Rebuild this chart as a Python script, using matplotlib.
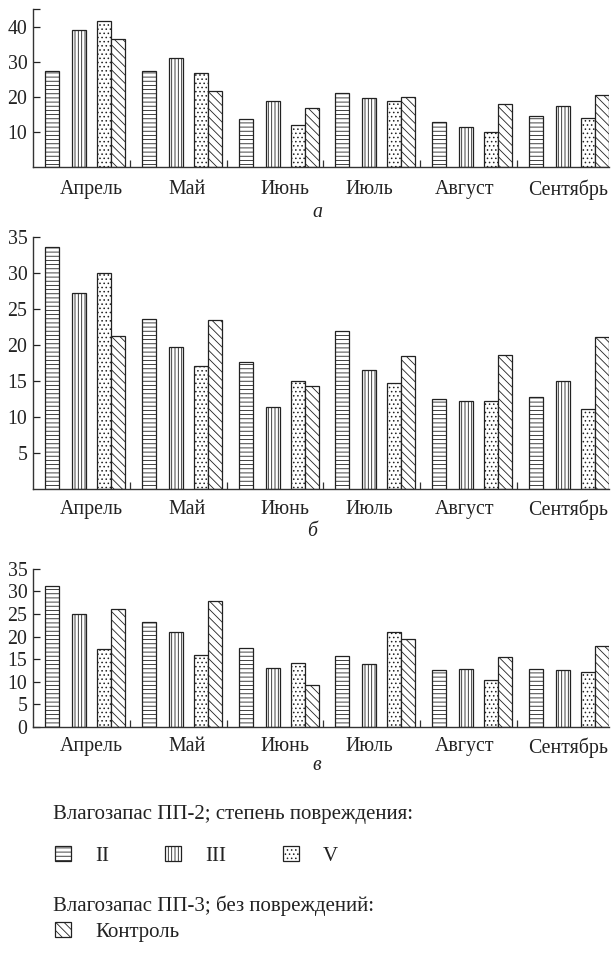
import numpy as np
import matplotlib
matplotlib.use('Agg')
import matplotlib.pyplot as plt

plt.rcParams['font.family'] = ['Liberation Serif', 'DejaVu Serif']
plt.rcParams['hatch.linewidth'] = 0.6
plt.rcParams['hatch.color'] = '#222222'

months = ['Апрель', 'Май', 'Июнь', 'Июль', 'Август', 'Сентябрь']
labels = ['II', 'III', 'V', 'Контроль']

# панель а
a_II   = [27.3, 27.3, 13.7, 21.0, 12.8, 14.5]
a_III  = [39.0, 31.2, 19.0, 19.6, 11.5, 17.4]
a_V    = [41.5, 26.7, 12.0, 19.0, 10.0, 14.1]
a_ctrl = [36.4, 21.6, 16.8, 19.9, 17.9, 20.7]

# панель б
b_II   = [33.7, 23.7, 17.7, 22.0, 12.5, 12.8]
b_III  = [27.2, 19.7, 11.4, 16.6, 12.2, 15.1]
b_V    = [30.1, 17.1, 15.1, 14.8, 12.3, 11.1]
b_ctrl = [21.3, 23.5, 14.4, 18.5, 18.6, 21.2]

# панель в
v_II   = [31.3, 23.2, 17.4, 15.6, 12.5, 12.7]
v_III  = [25.0, 20.9, 13.0, 13.8, 12.8, 12.6]
v_V    = [17.2, 15.8, 14.2, 20.9, 10.4, 12.1]
v_ctrl = [26.2, 27.8, 9.3, 19.5, 15.4, 17.8]

a_ticks = [10, 20, 30, 40, 45]
a_ticklabels = ['10', '20', '30', '40', '']
b_ticks = [5, 10, 15, 20, 25, 30, 35]
v_ticks = [0, 5, 10, 15, 20, 25, 30, 35]

# где стоят подписи месяцев внутри групп
label_pos = [0.6, 1.59, 2.6, 3.47, 4.46, 5.53]
offsets = [0.196, 0.475, 0.733, 0.878]
hatches = ['----', '|||||', '....', '\\\\\\\\']
width = 0.145
fs = 14.3
lfs = 15
ink = '#222222'

fig = plt.figure(figsize = (6.11, 9.57), dpi = 100)
ax_a = fig.add_axes([0.054, 0.8251, 0.9427, 0.1655])
ax_b = fig.add_axes([0.054, 0.4887, 0.9427, 0.2633])
ax_v = fig.add_axes([0.054, 0.2407, 0.9427, 0.1648])

panels = [
    (ax_a, [a_II, a_III, a_V, a_ctrl], 45, a_ticks, a_ticklabels, 9),
    (ax_b, [b_II, b_III, b_V, b_ctrl], 35, b_ticks, [str(t) for t in b_ticks], 7.5),
    (ax_v, [v_II, v_III, v_V, v_ctrl], 35, v_ticks, [str(t) for t in v_ticks], 7.5),
]

x = np.arange(len(months))
handles = []
for ax, data, top, ticks, ticklabels, xpad in panels:
    bars = []
    for k in range(4):
        b = ax.bar(x + offsets[k], data[k], width = width, facecolor = 'white',
                   edgecolor = ink, linewidth = 0.9, hatch = hatches[k])
        bars.append(b)
    if ax is ax_a:
        handles = bars
    ax.set_xlim(0, 5.95)
    ax.set_ylim(0, top)
    for s in ['top', 'right']:
        ax.spines[s].set_visible(False)
    for s in ['left', 'bottom']:
        ax.spines[s].set_linewidth(1.0)
        ax.spines[s].set_color('#333333')
    ax.set_yticks(ticks)
    ax.set_yticklabels(ticklabels)
    ax.tick_params(axis = 'y', direction = 'in', length = 5, width = 0.9, pad = 4,
                   labelsize = fs, colors = ink)
    ax.set_xticks(label_pos)
    ax.set_xticklabels(months)
    ax.set_xticks(x[1:], minor = True)
    ax.tick_params(axis = 'x', which = 'major', length = 0, pad = xpad, labelsize = fs,
                   labelcolor = ink)
    ax.tick_params(axis = 'x', which = 'minor', direction = 'in', length = 5, width = 0.9,
                   color = '#333333')

fig.text(317 / 611, 1 - 213 / 957, 'а', style = 'italic', fontsize = fs,
         ha = 'center', va = 'center', color = ink)
fig.text(312 / 611, 1 - 532 / 957, 'б', style = 'italic', fontsize = fs,
         ha = 'center', va = 'center', color = ink)
fig.text(317 / 611, 1 - 766 / 957, 'в', style = 'italic', fontsize = fs,
         ha = 'center', va = 'center', color = ink)

# подписи условных обозначений
fig.text(53 / 611, 1 - 814 / 957, 'Влагозапас ПП-2; степень повреждения:',
         fontsize = lfs, ha = 'left', va = 'center', color = ink)
fig.text(53 / 611, 1 - 906 / 957, 'Влагозапас ПП-3; без повреждений:',
         fontsize = lfs, ha = 'left', va = 'center', color = ink)

leg_kw = dict(frameon = False, fontsize = lfs, handlelength = 0.77, handleheight = 0.72,
              handletextpad = 1.15, columnspacing = 2.7, borderpad = 0,
              borderaxespad = 0, loc = 'center left', labelcolor = ink)
leg1 = fig.legend(handles[:3], labels[:3], ncol = 3,
                  bbox_to_anchor = (55 / 611, 1 - 856 / 957), **leg_kw)
leg2 = fig.legend(handles[3:], labels[3:], ncol = 1,
                  bbox_to_anchor = (55 / 611, 1 - 932 / 957), **leg_kw)

fig.savefig('out.png', dpi = 100)
